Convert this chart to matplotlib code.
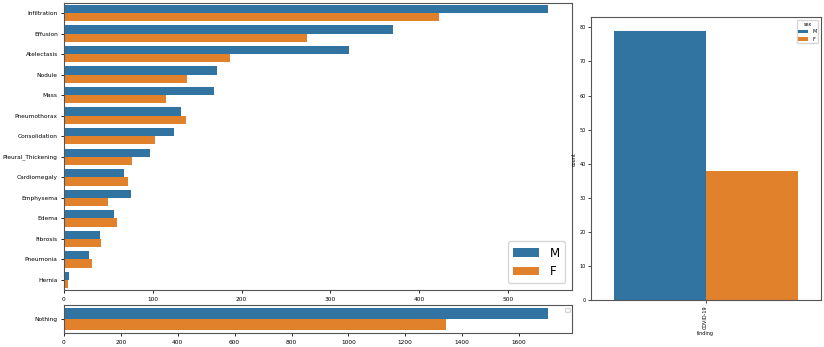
import matplotlib
matplotlib.use("Agg")
import matplotlib.pyplot as plt
import numpy as np

categories = ["Infiltration", "Effusion", "Atelectasis", "Nodule", "Mass", "Pneumothorax",
              "Consolidation", "Pleural_Thickening", "Cardiomegaly", "Emphysema", "Edema",
              "Fibrosis", "Pneumonia", "Hernia"]
male_counts = [545, 370, 321, 172, 169, 132, 124, 97, 67, 75, 56, 40, 28, 6]
female_counts = [422, 274, 187, 139, 115, 137, 102, 77, 72, 50, 60, 42, 32, 5]

nothing_label = ["Nothing"]
nothing_male = [1702]
nothing_female = [1344]

covid_label = ["COVID-19"]
covid_male = [79]
covid_female = [38]

sexes = ["M", "F"]
colors = ["#3274a1", "#e1812c"]

W, H = 824, 347
fig = plt.figure(figsize=(W / 100, H / 100), dpi=100)

def frac(l, t, r, b):
    return [l / W, (H - b) / H, (r - l) / W, (b - t) / H]

def hbar(ax, cats, m, f):
    y = np.arange(len(cats))
    ax.barh(y - 0.2, m, height=0.4, color=colors[0], label=sexes[0])
    ax.barh(y + 0.2, f, height=0.4, color=colors[1], label=sexes[1])
    ax.set_yticks(y)
    ax.set_yticklabels(cats)
    ax.set_ylim(len(cats) - 0.5, -0.5)
    ax.tick_params(labelsize=4.2, length=2.5, width=0.6, pad=2)
    for s in ax.spines.values():
        s.set_linewidth(0.8)
        s.set_color("#555555")

ax1 = fig.add_axes(frac(64, 2.7, 572.3, 290.3))
hbar(ax1, categories, male_counts, female_counts)
ax1.legend(loc="lower right", fontsize=8.5, handlelength=2.2, borderpad=0.45,
           labelspacing=0.45, handletextpad=0.9, borderaxespad=0.6)

ax2 = fig.add_axes(frac(64, 305, 572.3, 333.3))
hbar(ax2, nothing_label, nothing_male, nothing_female)
ax2.set_xticks(np.arange(0, 1800, 200))
ax2.legend(handles=[], loc="upper right", fontsize=4)

ax3 = fig.add_axes(frac(590.7, 17.3, 820.7, 300.3))
x = np.arange(len(covid_label))
ax3.bar(x - 0.2, covid_male, width=0.4, color=colors[0], label=sexes[0])
ax3.bar(x + 0.2, covid_female, width=0.4, color=colors[1], label=sexes[1])
ax3.set_xlim(-0.5, 0.5)
ax3.set_xticks(x)
ax3.set_xticklabels(covid_label, rotation=90)
ax3.set_yticks(np.arange(0, 81, 10))
ax3.set_xlabel("finding", fontsize=3.5, labelpad=2)
ax3.set_ylabel("count", fontsize=3.5, labelpad=2)
ax3.tick_params(labelsize=3.5, length=2, width=0.5, pad=1.5)
for s in ax3.spines.values():
    s.set_linewidth(0.8)
    s.set_color("#555555")
ax3.legend(title="sex", loc="upper right", fontsize=3.5, title_fontsize=3.5,
           handlelength=2.0)

fig.savefig("out.png", dpi=100)
